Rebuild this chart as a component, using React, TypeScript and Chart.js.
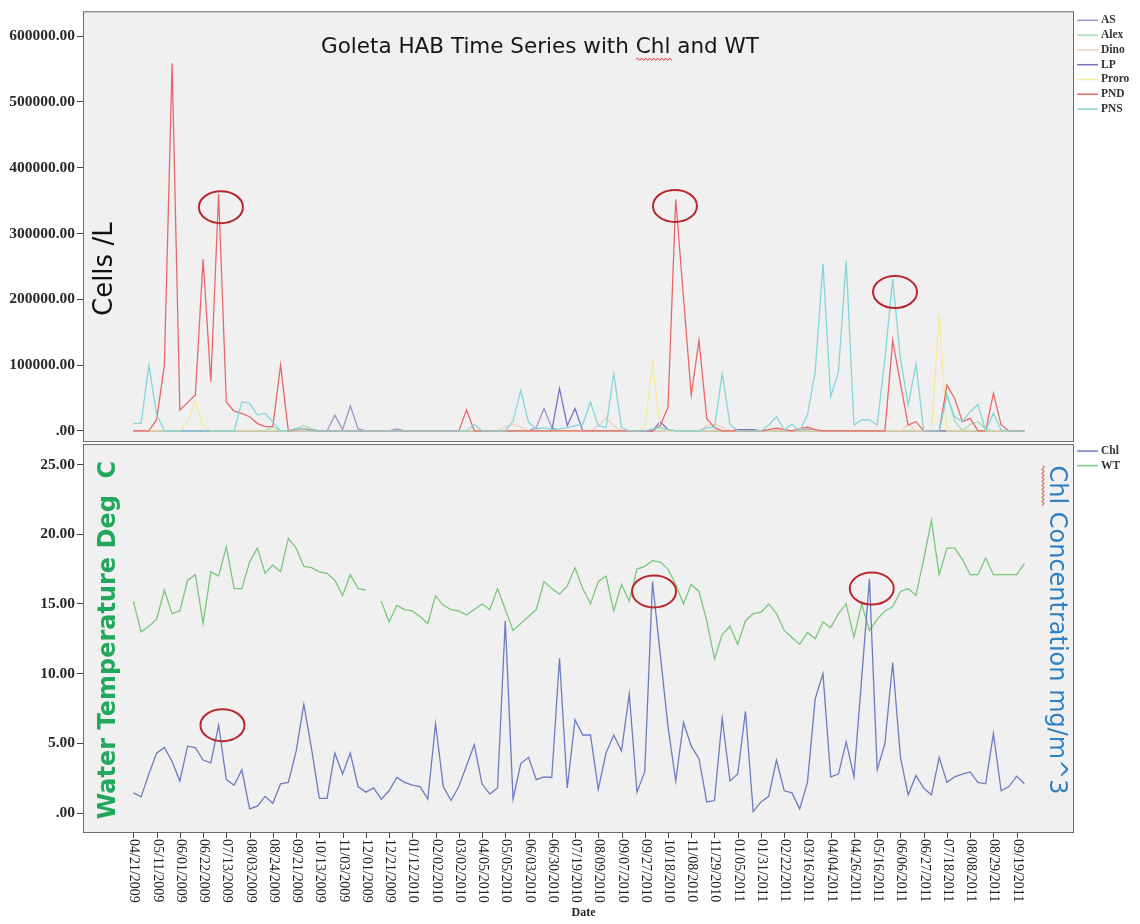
import React, { useEffect, useRef } from "react";
import { Chart, registerables } from "chart.js";

Chart.register(...registerables);

// ---------- data ----------
const tickLabels = [
  "04/21/2009", "05/11/2009", "06/01/2009", "06/22/2009", "07/13/2009", "08/03/2009", "08/24/2009",
  "09/21/2009", "10/13/2009", "11/03/2009", "12/01/2009", "12/21/2009", "01/12/2010", "02/02/2010",
  "03/02/2010", "04/05/2010", "05/05/2010", "06/03/2010", "06/30/2010", "07/19/2010", "08/09/2010",
  "09/07/2010", "09/27/2010", "10/18/2010", "11/08/2010", "11/29/2010", "01/05/2011", "01/31/2011",
  "02/22/2011", "03/16/2011", "04/04/2011", "04/26/2011", "05/16/2011", "06/06/2011", "06/27/2011",
  "07/18/2011", "08/08/2011", "08/29/2011", "09/19/2011",
];
const SAMPLES_PER_TICK = 3;

const topTicks = [0, 100000, 200000, 300000, 400000, 500000, 600000];
const botTicks = [0, 5, 10, 15, 20, 25];

const AS = [
  0, 0, 0, 0, 0, 0, 0, 0, 0, 0,
  0, 0, 0, 0, 0, 0, 0, 0, 0, 0,
  0, 0, 0, 0, 0, 0, 24000, 2000, 38300, 3000,
  0, 0, 0, 0, 3000, 0, 0, 0, 0, 0,
  0, 0, 0, 0, 0, 0, 0, 0, 0, 0,
  0, 0, 5000, 34000, 5000, 0, 0, 0, 0, 0,
  0, 0, 0, 0, 0, 0, 0, 0, 0, 0,
  0, 0, 0, 0, 0, 0, 0, 0, 0, 0,
  0, 0, 0, 0, 0, 0, 0, 3000, 0, 0,
  0, 0, 0, 0, 0, 0, 0, 0, 0, 0,
  0, 0, 0, 0, 0, 0, 0, 0, 0, 0,
  0, 0, 0, 0, 0, 0,
];
const Alex = [
  0, 0, 0, 0, 0, 0, 0, 0, 0, 0,
  0, 0, 0, 0, 0, 0, 0, 0, 6000, 0,
  0, 4000, 8000, 3000, 0, 0, 0, 0, 0, 0,
  0, 0, 0, 0, 0, 0, 0, 0, 0, 0,
  0, 0, 0, 0, 0, 0, 0, 0, 0, 0,
  0, 0, 0, 0, 0, 0, 0, 0, 0, 0,
  0, 0, 0, 0, 0, 0, 0, 0, 0, 0,
  0, 0, 0, 0, 0, 0, 0, 0, 0, 0,
  0, 0, 0, 0, 0, 0, 0, 0, 0, 0,
  0, 0, 0, 0, 0, 0, 0, 0, 0, 0,
  0, 0, 0, 0, 0, 55000, 15000, 0, 10000, 14000,
  3000, 0, 0, 0, 0, 0,
];
const Dino = [
  0, 0, 0, 0, 0, 0, 0, 0, 0, 0,
  0, 0, 0, 0, 0, 0, 0, 0, 0, 0,
  0, 0, 0, 0, 0, 0, 0, 0, 0, 0,
  0, 0, 0, 0, 0, 0, 0, 0, 0, 0,
  0, 0, 0, 0, 0, 0, 0, 0, 6000, 10000,
  6000, 0, 0, 0, 0, 0, 0, 0, 0, 0,
  8000, 20000, 8000, 0, 0, 0, 0, 0, 0, 0,
  0, 0, 0, 0, 8000, 10000, 6000, 0, 0, 0,
  0, 0, 0, 0, 0, 0, 0, 0, 0, 0,
  0, 0, 0, 0, 0, 0, 0, 0, 0, 0,
  10000, 0, 0, 0, 0, 0, 0, 0, 0, 0,
  0, 0, 0, 0, 0, 0,
];
const LP = [
  0, 0, 0, 0, 0, 0, 0, 0, 0, 0,
  0, 0, 0, 0, 0, 0, 0, 0, 0, 0,
  0, 0, 0, 0, 0, 0, 0, 0, 0, 0,
  0, 0, 0, 0, 0, 0, 0, 0, 0, 0,
  0, 0, 0, 0, 0, 0, 0, 0, 0, 0,
  0, 0, 0, 0, 0, 64500, 8000, 34200, 0, 0,
  0, 0, 0, 0, 0, 0, 0, 0, 14000, 2000,
  0, 0, 0, 0, 0, 0, 0, 0, 2000, 2000,
  2000, 0, 0, 0, 0, 0, 0, 0, 0, 0,
  0, 0, 0, 0, 0, 0, 0, 0, 0, 0,
  0, 0, 0, 0, 0, 0, 0, 0, 0, 0,
  0, 0, 0, 0, 0, 0,
];
const Proro = [
  0, 0, 0, 0, 0, 0, 0, 15000, 45000, 8000,
  0, 0, 0, 0, 0, 0, 0, 0, 0, 0,
  0, 0, 0, 0, 0, 0, 0, 0, 0, 0,
  0, 0, 0, 0, 0, 0, 0, 0, 0, 0,
  0, 0, 0, 0, 0, 0, 0, 0, 0, 0,
  0, 0, 0, 0, 0, 0, 0, 0, 0, 0,
  0, 0, 0, 0, 0, 0, 5000, 104000, 5000, 0,
  0, 0, 0, 0, 0, 0, 0, 0, 0, 0,
  0, 0, 0, 0, 0, 0, 0, 0, 0, 0,
  0, 0, 0, 0, 0, 0, 0, 0, 0, 0,
  0, 0, 0, 0, 178000, 0, 0, 0, 0, 0,
  0, 0, 0, 0, 0, 0,
];
const PND = [
  0, 0, 0, 17000, 100000, 559000, 31800, 43000, 54500, 261000,
  74600, 360000, 44000, 30000, 26600, 21600, 11500, 6500, 7000, 100000,
  0, 2000, 3000, 1000, 0, 0, 0, 0, 0, 0,
  0, 0, 0, 0, 0, 0, 0, 0, 0, 0,
  0, 0, 0, 31800, 0, 0, 0, 0, 0, 0,
  0, 0, 0, 0, 0, 0, 0, 0, 0, 0,
  0, 0, 0, 0, 0, 0, 0, 0, 8000, 36000,
  352000, 203000, 54500, 137700, 19000, 5000, 0, 0, 0, 0,
  0, 0, 2000, 4000, 2000, 0, 3000, 6000, 2000, 0,
  0, 0, 0, 0, 0, 0, 0, 0, 137700, 72000,
  9000, 14000, 0, 0, 0, 69600, 49400, 14000, 19000, 0,
  0, 57000, 9000, 0, 0, 0,
];
const PNS = [
  11500, 11500, 100000, 24700, 0, 0, 0, 0, 0, 0,
  0, 0, 0, 0, 44000, 42000, 24000, 26600, 14000, 0,
  0, 3000, 2000, 0, 0, 0, 0, 0, 0, 0,
  0, 0, 0, 0, 0, 0, 0, 0, 0, 0,
  0, 0, 0, 0, 10000, 0, 0, 0, 0, 15000,
  62000, 13000, 3000, 5000, 2000, 3000, 5000, 8000, 10000, 44000,
  8000, 5000, 87000, 5000, 0, 0, 0, 3000, 5000, 2000,
  0, 0, 0, 0, 5000, 5000, 87000, 10000, 0, 0,
  0, 0, 9000, 21600, 2000, 10000, 0, 24000, 90000, 253700,
  52000, 90000, 259000, 9000, 16600, 16600, 9000, 110000, 231000, 110000,
  39400, 102000, 0, 0, 0, 54500, 21600, 14000, 29200, 40300,
  0, 26600, 1000, 0, 0, 0,
];
const Chl = [
  1.45, 1.16, 2.8, 4.3, 4.7, 3.7, 2.3, 4.8, 4.7, 3.8,
  3.6, 6.3, 2.4, 2.0, 3.1, 0.3, 0.5, 1.2, 0.7, 2.1,
  2.2, 4.4, 7.8, 4.6, 1.05, 1.05, 4.3, 2.8, 4.3, 1.9,
  1.5, 1.8, 1.0, 1.6, 2.55, 2.2, 2.0, 1.9, 1.0, 6.4,
  1.9, 0.9, 1.9, 3.4, 4.9, 2.1, 1.36, 1.8, 13.8, 1.0,
  3.55, 4.0, 2.4, 2.6, 2.55, 11.1, 1.8, 6.7, 5.6, 5.6,
  1.7, 4.3, 5.6, 4.45, 8.55, 1.5, 2.95, 16.6, 11.4, 6.2,
  2.3, 6.5, 4.8, 3.9, 0.8, 0.9, 6.8, 2.3, 2.8, 7.3,
  0.1, 0.8, 1.2, 3.8, 1.6, 1.45, 0.3, 2.2, 8.2, 10.0,
  2.6, 2.8, 5.1, 2.6, 9.7, 16.8, 3.1, 5.0, 10.8, 4.0,
  1.3, 2.7, 1.8, 1.3, 4.0, 2.2, 2.6, 2.8, 2.95, 2.2,
  2.1, 5.7, 1.6, 1.9, 2.65, 2.1,
];
const WT = [
  15.2, 13.0, 13.4, 13.9, 16.0, 14.3, 14.5, 16.7, 17.1, 13.6,
  17.3, 17.0, 19.1, 16.1, 16.1, 18.0, 19.0, 17.2, 17.8, 17.3,
  19.7, 19.0, 17.7, 17.6, 17.3, 17.2, 16.7, 15.6, 17.1, 16.1,
  16.0, null, 15.2, 13.7, 14.9, 14.6, 14.5, 14.1, 13.6, 15.6,
  14.9, 14.6, 14.5, 14.2, 14.6, 15.0, 14.6, 16.1, 14.6, 13.1,
  13.6, 14.1, 14.6, 16.6, 16.1, 15.7, 16.3, 17.6, 16.1, 15.0,
  16.6, 17.0, 14.5, 16.4, 15.2, 17.5, 17.7, 18.1, 18.0, 17.5,
  16.4, 15.0, 16.4, 15.9, 13.8, 11.05, 12.8, 13.4, 12.1, 13.8,
  14.3, 14.4, 15.0, 14.3, 13.1, 12.6, 12.1, 12.95, 12.5, 13.7,
  13.3, 14.3, 15.0, 12.6, 15.0, 13.1, 13.9, 14.5, 14.8, 15.9,
  16.1, 15.6, 18.2, 21.0, 17.1, 19.0, 19.0, 18.2, 17.1, 17.1,
  18.3, 17.1, 17.1, 17.1, 17.1, 17.9,
];

const topSeriesNames = ["AS", "Alex", "Dino", "LP", "Proro", "PND", "PNS"];
const topSeriesValues = [AS, Alex, Dino, LP, Proro, PND, PNS];
const topSeriesColors = ["#a393c4", "#9fdcb2", "#efd2c0", "#7672c6", "#f3eb9a", "#e8686a", "#84d6d8"];
const botSeriesNames = ["Chl", "WT"];
const botSeriesValues = [Chl, WT];
const botSeriesColors = ["#6d7cc0", "#7cc77e"];

// annotation ellipses, in data units (sample index, value)
const topCircles = [
  { x: 11.3, y: 340000 },
  { x: 69.9, y: 342000 },
  { x: 98.3, y: 211000 },
];
const botCircles = [
  { x: 11.5, y: 6.3 },
  { x: 67.2, y: 15.9 },
  { x: 95.3, y: 16.1 },
];

const titleText = "Goleta HAB Time Series with Chl and WT";
const topAxisTitle = "Cells /L";
const leftAxisTitle = "Water Temperature Deg  C";
const rightAxisTitle = "Chl Concentration mg/m^3";
const xAxisTitle = "Date";

const fmt = (v: number) => (v === 0 ? ".00" : v.toFixed(2));

function wavy(ctx: CanvasRenderingContext2D, x0: number, x1: number, y: number) {
  ctx.save();
  ctx.strokeStyle = "#d04040";
  ctx.lineWidth = 1;
  ctx.beginPath();
  ctx.moveTo(x0, y);
  let up = true;
  for (let x = x0; x < x1; x += 2) {
    ctx.lineTo(x + 2, y + (up ? -1.3 : 1.3));
    up = !up;
  }
  ctx.stroke();
  ctx.restore();
}

const decor = {
  id: "decor",
  beforeDraw(chart: any) {
    const { ctx, chartArea } = chart;
    const yT = chart.scales.yTop;
    const yB = chart.scales.yBot;
    ctx.save();
    ctx.fillStyle = "#ffffff";
    ctx.fillRect(0, 0, chart.width, chart.height);
    ctx.fillStyle = "#f0f0f0";
    ctx.fillRect(chartArea.left, yT.top, chartArea.right - chartArea.left, yT.bottom - yT.top - 1);
    ctx.fillRect(chartArea.left, yB.top + 1, chartArea.right - chartArea.left, yB.bottom - yB.top - 1);
    ctx.restore();
  },
  afterDraw(chart: any) {
    const { ctx, chartArea } = chart;
    const xS = chart.scales.x;
    const yT = chart.scales.yTop;
    const yB = chart.scales.yBot;
    const L = chartArea.left;
    const R = chartArea.right;
    ctx.save();
    // frames
    ctx.strokeStyle = "#6a6a6a";
    ctx.lineWidth = 1;
    ctx.strokeRect(L + 0.5, yT.top + 0.5, R - L - 1, yT.bottom - yT.top - 2);
    ctx.strokeRect(L + 0.5, yB.top + 1.5, R - L - 1, yB.bottom - yB.top - 2);

    // ellipses
    ctx.strokeStyle = "#b8282c";
    ctx.lineWidth = 2;
    const drawEll = (cx: number, cy: number) => {
      ctx.beginPath();
      ctx.ellipse(cx, cy, 22, 16, 0, 0, Math.PI * 2);
      ctx.stroke();
    };
    topCircles.forEach((c) => drawEll(xS.getPixelForValue(c.x), yT.getPixelForValue(c.y)));
    botCircles.forEach((c) => drawEll(xS.getPixelForValue(c.x), yB.getPixelForValue(c.y)));

    // title
    ctx.fillStyle = "#151515";
    ctx.font = "21.5px 'DejaVu Sans'";
    ctx.textBaseline = "middle";
    ctx.textAlign = "left";
    const tx = 321;
    const ty = yT.top + 36;
    ctx.fillText(titleText, tx, ty);
    const pre = ctx.measureText("Goleta HAB Time Series with ").width;
    const chlW = ctx.measureText("Chl").width;
    wavy(ctx, tx + pre, tx + pre + chlW, ty + 12);

    // Cells /L
    ctx.save();
    ctx.translate(L + 22, (yT.top + yT.bottom) / 2 + 42);
    ctx.rotate(-Math.PI / 2);
    ctx.font = "26px 'DejaVu Sans'";
    ctx.textAlign = "center";
    ctx.fillStyle = "#111";
    ctx.fillText(topAxisTitle, 0, 0);
    ctx.restore();

    // Water Temperature
    ctx.save();
    ctx.translate(L + 26, (yB.top + yB.bottom) / 2 + 2);
    ctx.rotate(-Math.PI / 2);
    ctx.font = "bold 24px 'DejaVu Sans'";
    ctx.textAlign = "center";
    ctx.fillStyle = "#22a85c";
    ctx.fillText(leftAxisTitle, 0, 0);
    ctx.restore();

    // Chl Concentration
    ctx.save();
    ctx.translate(R - 18, (yB.top + yB.bottom) / 2 - 8);
    ctx.rotate(Math.PI / 2);
    ctx.font = "24px 'DejaVu Sans'";
    ctx.textAlign = "center";
    ctx.fillStyle = "#2f7fc1";
    ctx.fillText(rightAxisTitle, 0, 0);
    const fullW = ctx.measureText(rightAxisTitle).width;
    const cW = ctx.measureText("Chl").width;
    wavy(ctx, -fullW / 2, -fullW / 2 + cW, 13);
    ctx.restore();

    // x ticks and labels
    ctx.strokeStyle = "#444";
    ctx.lineWidth = 1;
    ctx.fillStyle = "#222";
    ctx.font = "14px 'Liberation Serif'";
    tickLabels.forEach((lab, k) => {
      const px = Math.round(xS.getPixelForValue(k * SAMPLES_PER_TICK)) + 0.5;
      ctx.beginPath();
      ctx.moveTo(px, yB.bottom);
      ctx.lineTo(px, yB.bottom + 5);
      ctx.stroke();
      ctx.save();
      ctx.translate(px, yB.bottom + 6);
      ctx.rotate(Math.PI / 2);
      ctx.textAlign = "left";
      ctx.textBaseline = "middle";
      ctx.fillText(lab, 0, 0);
      ctx.restore();
    });
    ctx.font = "bold 12px 'Liberation Serif'";
    ctx.textAlign = "center";
    ctx.textBaseline = "middle";
    ctx.fillText(xAxisTitle, (L + R) / 2 + 5, yB.bottom + 80);

    // legends
    ctx.font = "bold 11.5px 'Liberation Serif'";
    ctx.textAlign = "left";
    ctx.textBaseline = "middle";
    topSeriesNames.forEach((n, i) => {
      const y = yT.top + 9 + i * 14.8;
      ctx.strokeStyle = topSeriesColors[i];
      ctx.lineWidth = 1.5;
      ctx.beginPath();
      ctx.moveTo(R + 3, y);
      ctx.lineTo(R + 24, y);
      ctx.stroke();
      ctx.fillStyle = "#333";
      ctx.fillText(n, R + 27, y);
    });
    botSeriesNames.forEach((n, i) => {
      const y = yB.top + 8 + i * 14.5;
      ctx.strokeStyle = botSeriesColors[i];
      ctx.lineWidth = 1.5;
      ctx.beginPath();
      ctx.moveTo(R + 3, y);
      ctx.lineTo(R + 24, y);
      ctx.stroke();
      ctx.fillStyle = "#333";
      ctx.fillText(n, R + 27, y);
    });
    ctx.restore();
  },
};

export default function App() {
  const ref = useRef<HTMLCanvasElement>(null);
  useEffect(() => {
    if (!ref.current) return;
    const pts = (arr: (number | null)[]) => arr.map((v, i) => ({ x: i, y: v }));
    const topSets = topSeriesNames.map((n, i) => ({
      label: n,
      data: pts(topSeriesValues[i]),
      yAxisID: "yTop",
      borderColor: topSeriesColors[i],
      borderWidth: 1.3,
      pointRadius: 0,
      tension: 0,
      spanGaps: false,
    })).reverse();
    const botSets = botSeriesNames.map((n, i) => ({
      label: n,
      data: pts(botSeriesValues[i]),
      yAxisID: "yBot",
      borderColor: botSeriesColors[i],
      borderWidth: 1.3,
      pointRadius: 0,
      tension: 0,
      spanGaps: false,
    }));
    const tickFont = { family: "'Liberation Serif'", size: 15.5, weight: "bold" as const };
    const chart = new Chart(ref.current, {
      type: "line",
      data: { datasets: [...botSets, ...topSets] as any },
      options: {
        animation: false,
        responsive: false,
        devicePixelRatio: 1,
        parsing: false as any,
        layout: { padding: { top: 8, right: 66, bottom: 91, left: 0 } },
        plugins: { legend: { display: false }, tooltip: { enabled: false }, title: { display: false } },
        scales: {
          x: {
            type: "linear",
            display: false,
            min: -6.5,
            max: 121.4,
          },
          yBot: {
            type: "linear",
            position: "left",
            stack: "panels",
            stackWeight: 391.5,
            min: -1.43,
            max: 26.54,
            afterBuildTicks: (s: any) => { s.ticks = botTicks.map((v) => ({ value: v })); },
            afterFit: (s: any) => { s.width = 83; },
            ticks: { font: tickFont, color: "#2a2a2a", padding: 2, callback: (v: any) => fmt(Number(v)) },
            grid: { drawOnChartArea: false, drawTicks: true, tickLength: 6, color: "#444" },
            border: { display: false },
          },
          yTop: {
            type: "linear",
            position: "left",
            stack: "panels",
            stackWeight: 433.5,
            min: -18470,
            max: 637850,
            afterBuildTicks: (s: any) => { s.ticks = topTicks.map((v) => ({ value: v })); },
            afterFit: (s: any) => { s.width = 83; },
            ticks: { font: tickFont, color: "#2a2a2a", padding: 2, callback: (v: any) => fmt(Number(v)) },
            grid: { drawOnChartArea: false, drawTicks: true, tickLength: 6, color: "#444" },
            border: { display: false },
          },
        } as any,
      },
      plugins: [decor],
    });
    return () => chart.destroy();
  }, []);
  return (
    <div style={{ position: "absolute", left: 0, top: 0, width: 1140, height: 924, background: "#fff" }}>
      <canvas ref={ref} width={1140} height={924} style={{ display: "block", width: 1140, height: 924 }} />
    </div>
  );
}
